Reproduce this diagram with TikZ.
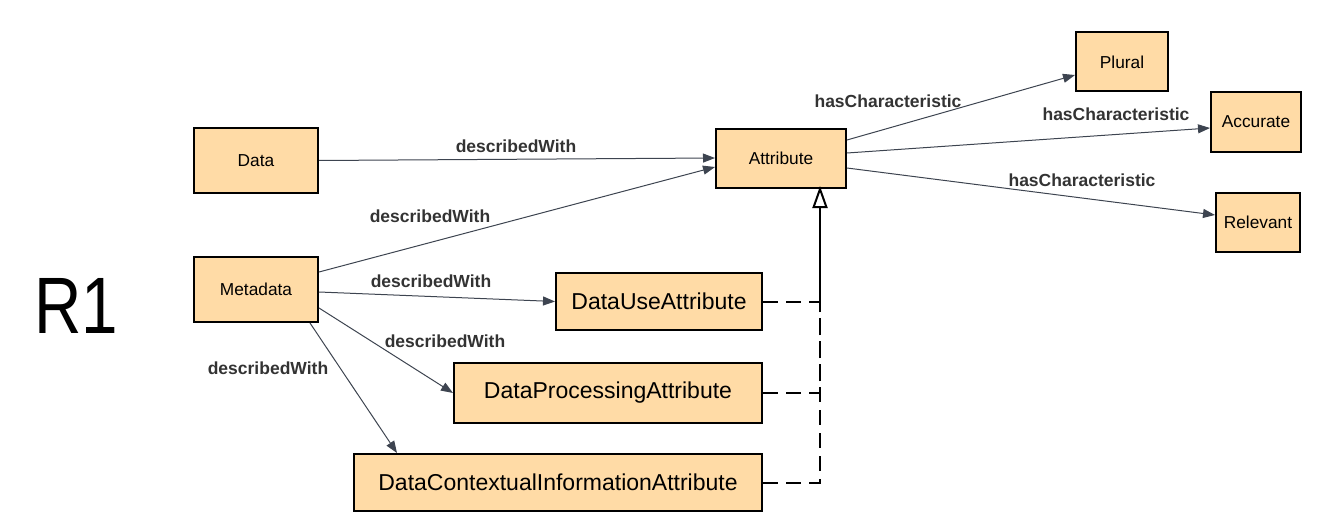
\documentclass[tikz,border=0pt]{standalone}
\usepackage{fontspec}
\setmainfont{Liberation Sans}
\usetikzlibrary{arrows.meta}
\definecolor{boxfill}{RGB}{255,219,166}
\definecolor{edgegray}{RGB}{61,68,80}
\definecolor{labgray}{RGB}{51,51,51}
\tikzset{
  cls/.style={draw=black, line width=2pt, fill=boxfill, inner sep=0pt, font=\fontsize{17.3}{20}\selectfont},
  bigcls/.style={draw=black, line width=2pt, fill=boxfill, inner sep=0pt, font=\fontsize{23}{27}\selectfont},
  rel/.style={draw=edgegray, line width=1pt, -{Triangle[length=12pt,width=9pt]}},
  genline/.style={draw=black, line width=2pt, dash pattern=on 15pt off 8pt},
  gentip/.style={draw=black, line width=2pt, -{Triangle[open,length=22pt,width=15pt,fill=white]}},
  lab/.style={text=labgray, font=\bfseries\fontsize{17.5}{20}\selectfont, inner sep=0pt}
}
\begin{document}
\begin{tikzpicture}[x=1pt,y=-1pt]
\useasboundingbox (0,0) rectangle (1336,524);
\node[cls, minimum width=124pt, minimum height=65pt] (data) at (256,160.5) {Data};
\node[cls, minimum width=124pt, minimum height=65pt] (meta) at (256,289.5) {Metadata};
\node[cls, minimum width=130pt, minimum height=59pt] (attr) at (781,158.5) {Attribute};
\node[cls, minimum width=92pt, minimum height=59pt] (plural) at (1122,62) {Plural};
\node[cls, minimum width=90pt, minimum height=60pt] (acc) at (1256,122) {Accurate};
\node[cls, minimum width=84pt, minimum height=59pt] (rel) at (1258,222.5) {Relevant};
\node[bigcls, minimum width=206pt, minimum height=57pt] (use) at (659,301.5) {DataUseAttribute};
\node[bigcls, minimum width=308pt, minimum height=60pt] (proc) at (608,393) {DataProcessingAttribute};
\node[bigcls, minimum width=408pt, minimum height=57pt] (ctx) at (558,482.5) {DataContextualInformationAttribute};
\node[font=\fontsize{80}{90}\selectfont, inner sep=0pt] (r1) at (76,306) {\scalebox{0.82}[1]{R1}};

% describedWith edges
\draw[rel] (data.east) -- ([yshift=0.5pt]attr.west);
\draw[rel] ([yshift=17.5pt]meta.east) -- ([yshift=-8.5pt]attr.west);
\draw[rel] ([yshift=-2.5pt]meta.east) -- (use.west);
\draw[rel] ([yshift=-18.5pt]meta.east) -- (proc.west);
\draw[rel] ([xshift=54pt]meta.south) -- ([xshift=-161pt]ctx.north);

% hasCharacteristic edges
\draw[rel] ([yshift=18.5pt]attr.east) -- ([yshift=-13pt]plural.west);
\draw[rel] ([yshift=5.5pt]attr.east) -- ([yshift=-6pt]acc.west);
\draw[rel] ([yshift=-9.5pt]attr.east) -- ([yshift=7.5pt]rel.west);

% generalisation edges
\coordinate (top) at ([xshift=39pt,yshift=3pt]attr.south);
\coordinate (j1) at (top |- use.east);
\coordinate (j2) at (top |- proc.east);
\coordinate (j3) at (top |- ctx.east);
\draw[genline] (use.east) -- (j1);
\draw[genline] (proc.east) -- (j2) -- (j1);
\draw[genline] (ctx.east) -- (j3) -- (j1);
\draw[genline, dash phase=11pt] (j2) -- (j1);
\draw[gentip] (j1) -- (top);

% labels
\node[lab] (l1) at (516,146) {describedWith};
\node[lab] (l2) at (430,216) {describedWith};
\node[lab] (l3) at (431,281) {describedWith};
\node[lab] (l4) at (445,341) {describedWith};
\node[lab] (l5) at (268,368) {describedWith};
\node[lab] (l6) at (888,101) {hasCharacteristic};
\node[lab] (l7) at (1116,114) {hasCharacteristic};
\node[lab] (l8) at (1082,180) {hasCharacteristic};
\end{tikzpicture}
\end{document}
